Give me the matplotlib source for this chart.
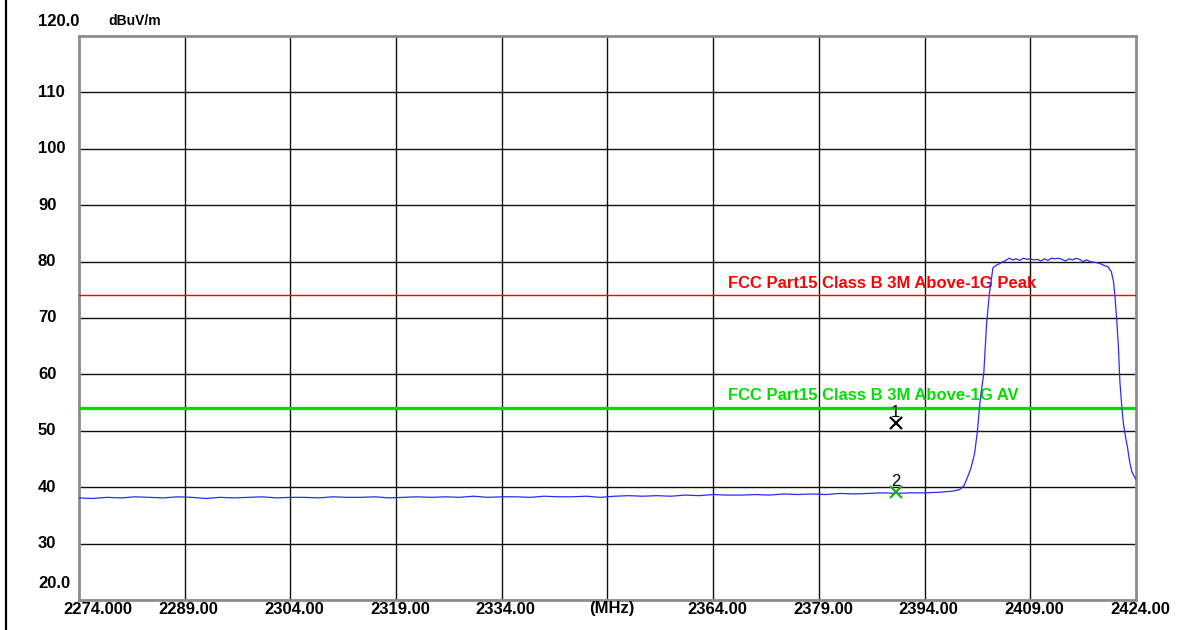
import matplotlib
matplotlib.use("Agg")
import matplotlib.pyplot as plt
from matplotlib.lines import Line2D
from matplotlib.transforms import blended_transform_factory, offset_copy

# ---------------- data ----------------
x_ticks = [2274.0, 2289.0, 2304.0, 2319.0, 2334.0, 2349.0, 2364.0, 2379.0, 2394.0, 2409.0, 2424.0]
x_tick_labels = ["2274.000", "2289.00", "2304.00", "2319.00", "2334.00", "(MHz)",
                 "2364.00", "2379.00", "2394.00", "2409.00", "2424.00"]
y_ticks = [20, 30, 40, 50, 60, 70, 80, 90, 100, 110, 120]
y_tick_labels = ["20.0", "30", "40", "50", "60", "70", "80", "90", "100", "110", "120.0"]
y_unit = "dBuV/m"

trace_freq = [
    2274, 2276, 2278, 2280, 2282, 2284, 2286, 2288, 2290, 2292,
    2294, 2296, 2298, 2300, 2302, 2304, 2306, 2308, 2310, 2312,
    2314, 2316, 2318, 2320, 2322, 2324, 2326, 2328, 2330, 2332,
    2334, 2336, 2338, 2340, 2342, 2344, 2346, 2348, 2350, 2352,
    2354, 2356, 2358, 2360, 2362, 2364, 2366, 2368, 2370, 2372,
    2374, 2376, 2378, 2380, 2382, 2384, 2386, 2388, 2390, 2392,
    2394, 2396, 2398, 2399.0, 2399.6, 2400.1, 2400.6, 2401.1, 2401.5, 2401.8,
    2402.1, 2402.4, 2402.8, 2403.2, 2403.7, 2404.2, 2404.6, 2405.0, 2405.5, 2406.0,
    2406.5, 2407.0, 2407.5, 2408.0, 2408.5, 2409.0, 2409.5, 2410.0, 2410.5, 2411.0,
    2411.5, 2412.0, 2412.5, 2413.0, 2413.5, 2414.0, 2414.5, 2415.0, 2415.5, 2416.0,
    2416.5, 2417.0, 2417.5, 2418.0, 2418.5, 2419.0, 2419.5, 2420.0, 2420.5, 2420.8,
    2421.0, 2421.3, 2421.5, 2421.7, 2422.0, 2422.2, 2422.5, 2422.8, 2423.1, 2423.4,
    2423.7, 2424.0,
]
trace_level = [
    38.1, 38.0, 38.2, 38.1, 38.3, 38.2, 38.1, 38.3, 38.2, 38.0,
    38.2, 38.1, 38.2, 38.3, 38.1, 38.2, 38.2, 38.1, 38.3, 38.2,
    38.2, 38.3, 38.1, 38.2, 38.3, 38.2, 38.3, 38.2, 38.4, 38.2,
    38.3, 38.3, 38.2, 38.4, 38.3, 38.3, 38.4, 38.2, 38.4, 38.5,
    38.4, 38.5, 38.4, 38.6, 38.5, 38.7, 38.6, 38.6, 38.7, 38.6,
    38.8, 38.7, 38.8, 38.7, 38.9, 38.8, 38.9, 39.0, 38.9, 39.0,
    39.0, 39.1, 39.3, 39.6, 40.3, 41.8, 43.5, 46.0, 50.0, 54.3,
    57.5, 60.2, 69.1, 74.4, 78.9, 79.4, 79.6, 79.9, 80.2, 80.6,
    80.3, 80.5, 80.2, 80.6, 80.4, 80.5, 80.3, 80.4, 80.1, 80.5,
    80.2, 80.6, 80.5, 80.6, 80.4, 80.1, 80.5, 80.3, 80.6, 80.4,
    80.0, 80.3, 80.0, 79.9, 79.8, 79.6, 79.3, 79.1, 78.2, 76.5,
    74.0, 69.0, 65.0, 59.0, 54.0, 51.5, 49.0, 47.0, 44.5, 42.8,
    42.0, 41.4,
]

limit_peak = 74.0
limit_av = 54.0
limit_peak_label = "FCC Part15 Class B 3M Above-1G Peak"
limit_av_label = "FCC Part15 Class B 3M Above-1G AV"
label_freq = 2366.1

marker_ids = ["1", "2"]
marker_freq = [2389.9, 2389.9]
marker_level = [51.4, 39.2]
marker_colors = ["black", "#1faa1f"]

# ---------------- figure ----------------
W, H = 1204, 630
fig = plt.figure(figsize=(W / 100, H / 100), dpi=100)
ax = fig.add_axes([79 / W, 1 - 600 / H, (1136 - 79) / W, (600 - 36) / H])

ax.set_xlim(x_ticks[0], x_ticks[-1])
ax.set_ylim(y_ticks[0], y_ticks[-1])

for xv in x_ticks[1:-1]:
    ax.axvline(xv, color="#111111", lw=1.0, zorder=1)
for yv in y_ticks[1:-1]:
    ax.axhline(yv, color="#111111", lw=1.0, zorder=1)

ax.set_xticks([])
ax.set_yticks([])
for sp in ax.spines.values():
    sp.set_color("#8c8c8c")
    sp.set_linewidth(2.0)

font = dict(family=["Liberation Sans", "DejaVu Sans"], fontweight="bold")

# limit lines
ax.axhline(limit_peak, color="#ff0000", lw=1.0, zorder=3)
ax.axhline(limit_av, color="#00e000", lw=2.4, zorder=3)
ax.text(label_freq, limit_peak, limit_peak_label, color="#ff0000", fontsize=12,
        ha="left", va="bottom", **font, zorder=4,
        transform=offset_copy(ax.transData, fig=fig, y=4, units="dots"))
ax.text(label_freq, limit_av, limit_av_label, color="#00e000", fontsize=12,
        ha="left", va="bottom", **font, zorder=4,
        transform=offset_copy(ax.transData, fig=fig, y=5, units="dots"))

# trace
ax.plot(trace_freq, trace_level, color="#2a2aff", lw=0.9, zorder=5)

# markers
for mid, mf, ml, mc in zip(marker_ids, marker_freq, marker_level, marker_colors):
    ax.plot([mf], [ml], marker="x", ms=8, mew=1.6, color=mc, zorder=6, linestyle="none")
    ax.text(mf, ml, mid, color="black", fontsize=12, ha="center", va="bottom",
            family=["Liberation Sans", "DejaVu Sans"], zorder=6,
            transform=offset_copy(ax.transData, fig=fig, y=3, units="dots"))

# y tick labels
ytr = blended_transform_factory(fig.transFigure, ax.transData)
for yv, lab in zip(y_ticks, y_tick_labels):
    dy = 0
    if yv == y_ticks[-1]:
        dy = 14
    elif yv == y_ticks[0]:
        dy = 16
    ax.text(38 / W, yv, lab, ha="left", va="center", fontsize=12, **font,
            transform=offset_copy(ytr, fig=fig, y=dy, units="dots"), clip_on=False)
ax.text(108 / W, 1 - 21 / H, y_unit, ha="left", va="center", fontsize=10, **font,
        transform=fig.transFigure)

# x tick labels
xtr = blended_transform_factory(ax.transData, fig.transFigure)
for i, (xv, lab) in enumerate(zip(x_ticks, x_tick_labels)):
    if i == 0:
        ax.text(xv, 1 - 609 / H, lab, ha="left", va="center", fontsize=12, **font,
                transform=offset_copy(xtr, fig=fig, x=-16, units="dots"), clip_on=False)
    else:
        ax.text(xv, 1 - 609 / H, lab, ha="center", va="center", fontsize=12, **font,
                transform=offset_copy(xtr, fig=fig, x=4, units="dots"), clip_on=False)

# left frame line of the window
fig.add_artist(Line2D([5.5 / W, 5.5 / W], [0, 1], transform=fig.transFigure,
                      color="black", lw=1.6))

fig.savefig("out.png", dpi=100)
